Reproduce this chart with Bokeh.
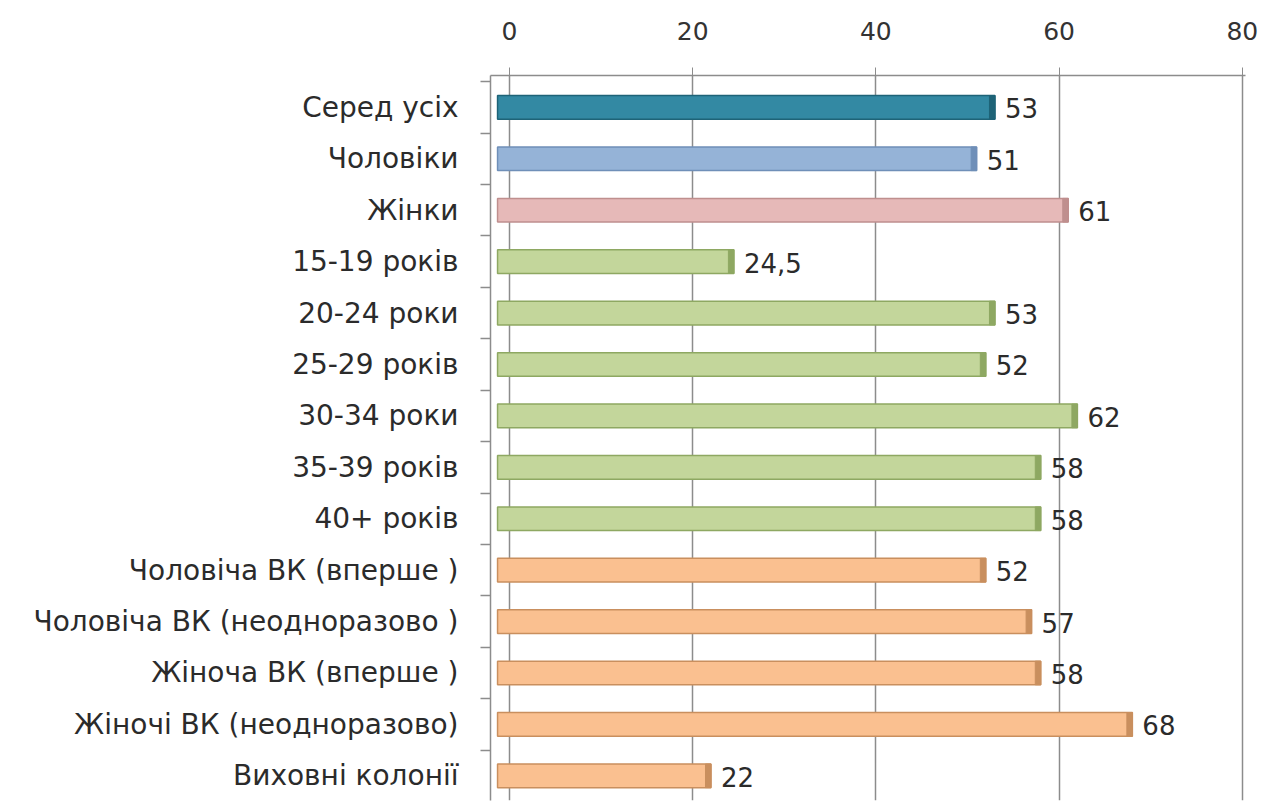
from bokeh.plotting import figure
from bokeh.models import Range1d, FixedTicker, ColumnDataSource
from bokeh.core.properties import value
from bokeh.embed import file_html
from bokeh.resources import INLINE

categories = ["Серед усіх", "Чоловіки", "Жінки", "15-19 років", "20-24 роки",
              "25-29 років", "30-34 роки", "35-39 років", "40+ років",
              "Чоловіча ВК (вперше )", "Чоловіча ВК (неодноразово )",
              "Жіноча ВК (вперше )", "Жіночі ВК (неодноразово)", "Виховні колонії"]
values = [53, 51, 61, 24.5, 53, 52, 62, 58, 58, 52, 57, 58, 68, 22]
groups = ["all", "men", "women", "age", "age", "age", "age", "age", "age",
          "vk", "vk", "vk", "vk", "vk"]
x_ticks = [0, 20, 40, 60, 80]

face = {"all": "#3389A3", "men": "#95B3D7", "women": "#E6B9B8", "age": "#C3D69B", "vk": "#FAC090"}
edge = {"all": "#1E6377", "men": "#6F8FB8", "women": "#BF8F8E", "age": "#8EA862", "vk": "#C98F5E"}

ys = list(range(len(categories)))
labels = [("%g" % v).replace(".", ",") for v in values]
DEPTH = 1.3   # 3-D look: bar face starts slightly left of zero
CAP = 0.6

src = ColumnDataSource(dict(
    y=ys, right=values, left=[-DEPTH] * len(values),
    capleft=[v - CAP for v in values],
    face=[face[g] for g in groups], edge=[edge[g] for g in groups],
    label=labels))

p = figure(width=1271, height=802, output_backend="svg", toolbar_location=None,
           x_axis_location="above",
           x_range=Range1d(-2.07, 80.35), y_range=Range1d(13.48, -0.62),
           min_border_left=490, min_border_right=26, min_border_top=75, min_border_bottom=2)
p.outline_line_color = None
p.background_fill_color = "white"

# grid
p.xgrid.ticker = FixedTicker(ticks=x_ticks)
p.xgrid.grid_line_color = "#8C8C8C"
p.xgrid.grid_line_width = 1.5
p.ygrid.grid_line_color = None

# top axis
xa = p.xaxis[0]
xa.ticker = FixedTicker(ticks=x_ticks)
xa.axis_line_color = "#8C8C8C"
xa.axis_line_width = 1.5
xa.major_tick_line_color = "#8C8C8C"
xa.major_tick_out = 8
xa.major_tick_in = 0
xa.minor_tick_line_color = None
xa.major_label_standoff = 28
xa.major_label_text_font = "DejaVu Sans"
xa.major_label_text_font_size = "25px"
xa.major_label_text_color = "#333333"

# left axis with category labels
ya = p.yaxis[0]
ya.ticker = FixedTicker(ticks=ys, minor_ticks=[i + 0.5 for i in range(-1, len(ys))])
ya.major_label_overrides = {i: c for i, c in zip(ys, categories)}
ya.axis_line_color = "#8C8C8C"
ya.axis_line_width = 1.5
ya.major_tick_line_color = None
ya.major_tick_out = 0
ya.major_tick_in = 0
ya.minor_tick_line_color = "#8C8C8C"
ya.minor_tick_line_width = 1.5
ya.minor_tick_out = 10
ya.minor_tick_in = 0
ya.major_label_standoff = 22
ya.major_label_text_font = "DejaVu Sans"
ya.major_label_text_font_size = "28px"
ya.major_label_text_color = "#2B2B2B"

# bars
p.hbar(y="y", left="left", right="right", height=0.46, source=src,
       fill_color="face", line_color="edge", line_width=1.5)
p.hbar(y="y", left="capleft", right="right", height=0.46, source=src,
       fill_color="edge", line_color="edge", line_width=1)

# value labels
p.text(x="right", y="y", text="label", source=src, x_offset=10, y_offset=1,
       text_align="left", text_baseline="middle",
       text_font_size="26px", text_font=value("DejaVu Sans"), text_color="#2B2B2B")

open("out.html", "w").write(file_html(p, INLINE))
